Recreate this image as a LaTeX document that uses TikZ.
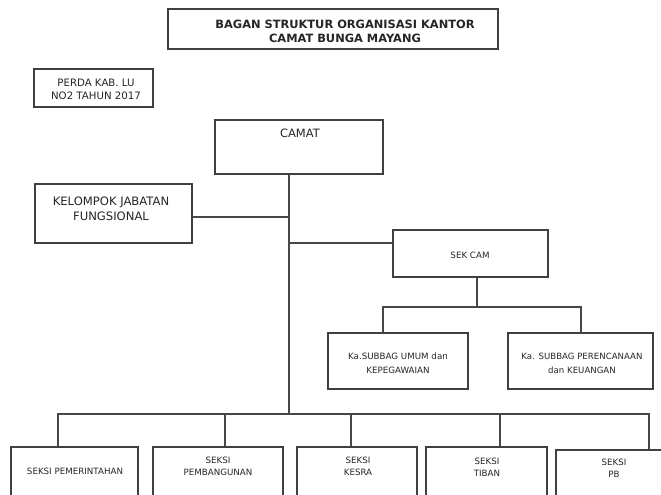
\documentclass[tikz,border=0pt]{standalone}
\usepackage{fontspec}
\setmainfont{DejaVu Sans}
\begin{document}
\begin{tikzpicture}[x=1pt,y=-1pt,
  box/.style={draw=black!75, line width=1.3pt, fill=white, inner sep=0pt},
  conn/.style={draw=black!72, line width=1.2pt},
  txt/.style={inner sep=0pt, align=center, text=black!85},
  small/.style={txt, font=\fontsize{8.7}{12}\selectfont}]
\useasboundingbox (0,0) rectangle (661,495);
\clip (0,0) rectangle (661,495);
% boxes
\node[box, minimum width=330pt, minimum height=40pt] (title) at (333,29) {};
\node[box, minimum width=119pt, minimum height=38pt] (perda) at (93.5,88) {};
\node[box, minimum width=168pt, minimum height=54pt] (camat) at (299,147) {};
\node[box, minimum width=157pt, minimum height=59pt] (kel) at (113.5,213.5) {};
\node[box, minimum width=155pt, minimum height=47pt] (sekcam) at (470.5,253.5) {};
\node[box, minimum width=140pt, minimum height=56pt] (umum) at (398,361) {};
\node[box, minimum width=145pt, minimum height=56pt] (renc) at (580.5,361) {};
\node[box, minimum width=127pt, minimum height=63pt] (pem) at (74.5,478.5) {};
\node[box, minimum width=130pt, minimum height=63pt] (pbg) at (218,478.5) {};
\node[box, minimum width=120pt, minimum height=63pt] (kes) at (357,478.5) {};
\node[box, minimum width=121pt, minimum height=63pt] (tib) at (486.5,478.5) {};
\node[box, minimum width=124pt, minimum height=60pt] (pb) at (618,480) {};
% junctions
\coordinate (trunk) at (289,414);
\coordinate (j1) at (289,217);
\coordinate (j2) at (289,243);
\coordinate (j3) at (477,307);
\coordinate (u) at (383,307);
\coordinate (r) at (581,307);
\coordinate (b1) at (58,414);
\coordinate (b2) at (225,414);
\coordinate (b3) at (351,414);
\coordinate (b4) at (500,414);
\coordinate (b5) at (649,414);
% connectors
\draw[conn] (camat.south -| trunk) -- (trunk);
\draw[conn] (kel.east |- j1) -- (j1);
\draw[conn] (j2) -- (sekcam.west |- j2);
\draw[conn] (sekcam.south -| j3) -- (j3);
\draw[conn] (umum.north -| u) -- (u) -- (r) -- (renc.north -| r);
\draw[conn] (pem.north -| b1) -- (b1) -- (b5) -- (pb.north -| b5);
\draw[conn] (b2) -- (pbg.north -| b2);
\draw[conn] (b3) -- (kes.north -| b3);
\draw[conn] (b4) -- (tib.north -| b4);
% texts
\node[txt, font=\bfseries\fontsize{11.4}{14}\selectfont] (titletext) at (345,31) {BAGAN STRUKTUR ORGANISASI KANTOR\\CAMAT BUNGA MAYANG};
\node[txt, font=\fontsize{10.2}{13}\selectfont] (perdatext) at (96,89.5) {PERDA KAB. LU\\NO2 TAHUN 2017};
\node[txt, font=\fontsize{11.5}{14}\selectfont] (camattext) at (300,133) {CAMAT};
\node[txt, font=\fontsize{11.6}{15}\selectfont] (keltext) at (111,208.5) {KELOMPOK JABATAN\\FUNGSIONAL};
\node[small] (sekcamtext) at (470,255) {SEK CAM};
\node[small, font=\fontsize{8.7}{14}\selectfont] (umumtext) at (398,363) {Ka.SUBBAG UMUM dan\\KEPEGAWAIAN};
\node[small, font=\fontsize{8.6}{14}\selectfont] (renctext) at (582,363) {Ka. SUBBAG PERENCANAAN\\dan KEUANGAN};
\node[small] (pemtext) at (75,471) {SEKSI PEMERINTAHAN};
\node[small] (pbgtext) at (218,466) {SEKSI\\PEMBANGUNAN};
\node[small] (kestext) at (358,466) {SEKSI\\KESRA};
\node[small] (tibtext) at (487,467) {SEKSI\\TIBAN};
\node[small] (pbtext) at (614,468) {SEKSI\\PB};
\end{tikzpicture}
\end{document}
